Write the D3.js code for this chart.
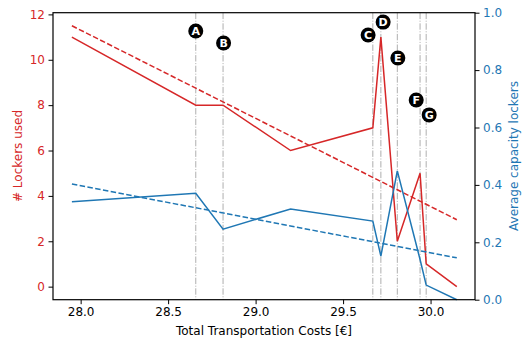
<!DOCTYPE html>
<html>
<head>
<meta charset="utf-8">
<script src="https://cdn.jsdelivr.net/npm/d3@7"></script>
<style>
  html, body { margin: 0; padding: 0; background: #fff; }
  svg { display: block; font-family: "DejaVu Sans", sans-serif; }
</style>
</head>
<body>
<svg id="chart" width="528" height="342"></svg>
<script>
// Pareto solutions: total cost vs. number of lockers and average locker capacity
const costs       = [27.95, 28.658, 28.814, 29.20, 29.67, 29.716, 29.81, 29.94, 29.975, 30.15];
const lockersUsed = [11, 8, 8, 6, 7, 11, 2, 5, 1, 0];
const avgCapacity = [0.341, 0.371, 0.246, 0.316, 0.274, 0.152, 0.449, 0.14, 0.051, 0.0];

// Linear trend lines (end points)
const trendX        = [27.95, 30.15];
const trendLockers  = [11.5, 2.95];
const trendCapacity = [0.403, 0.146];

// Marked solutions
const markLabels = ["A", "B", "C", "D", "E", "F", "G"];
const markCosts  = [28.658, 28.814, 29.67, 29.716, 29.81, 29.94, 29.975];
const markLabelX = [28.658, 28.817, 29.643, 29.729, 29.813, 29.918, 29.992];
const markLabelY = [11.27, 10.74, 11.09, 11.66, 10.08, 8.23, 7.57];

const xTicks = [28.0, 28.5, 29.0, 29.5, 30.0];
const yLeftTicks = [0, 2, 4, 6, 8, 10, 12];
const yRightTicks = [0.0, 0.2, 0.4, 0.6, 0.8, 1.0];

const red = "#d62728", blue = "#1f77b4";
const W = 528, H = 342;
const m = { left: 53, right: 53, top: 12.7, bottom: 42.3 };

const svg = d3.select("#chart");
const x = d3.scaleLinear().domain([27.842, 30.254]).range([m.left, W - m.right]);
const yL = d3.scaleLinear().domain([-0.575, 12.075]).range([H - m.bottom, m.top]);
const yR = d3.scaleLinear().domain([0, 1]).range([H - m.bottom, m.top]);

// vertical marker lines
svg.append("g").selectAll("line").data(markCosts).join("line")
  .attr("x1", d => x(d)).attr("x2", d => x(d))
  .attr("y1", m.top).attr("y2", H - m.bottom)
  .attr("stroke", "#9a9a9a").attr("stroke-width", 1).attr("stroke-opacity", 0.8)
  .attr("stroke-dasharray", "6.4,1.6,1,1.6");

const pts = (xs, ys) => xs.map((v, i) => [v, ys[i]]);

// lockers used (left axis)
svg.append("path").datum(pts(costs, lockersUsed))
  .attr("fill", "none").attr("stroke", red).attr("stroke-width", 1.5)
  .attr("d", d3.line().x(d => x(d[0])).y(d => yL(d[1])));
svg.append("path").datum(pts(trendX, trendLockers))
  .attr("fill", "none").attr("stroke", red).attr("stroke-width", 1.5)
  .attr("stroke-dasharray", "5.5,2.4")
  .attr("d", d3.line().x(d => x(d[0])).y(d => yL(d[1])));

// average capacity (right axis)
svg.append("path").datum(pts(costs, avgCapacity))
  .attr("fill", "none").attr("stroke", blue).attr("stroke-width", 1.5)
  .attr("d", d3.line().x(d => x(d[0])).y(d => yR(d[1])));
svg.append("path").datum(pts(trendX, trendCapacity))
  .attr("fill", "none").attr("stroke", blue).attr("stroke-width", 1.5)
  .attr("stroke-dasharray", "5.5,2.4")
  .attr("d", d3.line().x(d => x(d[0])).y(d => yR(d[1])));

// circled letters
const marks = svg.append("g").selectAll("g").data(markLabels).join("g")
  .attr("transform", (d, i) => `translate(${x(markLabelX[i])},${yL(markLabelY[i])})`);
marks.append("circle").attr("r", 7.5).attr("fill", "#000");
marks.append("text").text(d => d)
  .attr("text-anchor", "middle").attr("dy", "0.36em")
  .attr("fill", "#fff").attr("font-weight", "bold").attr("font-size", 11);

// axes
const fs = 12;
const gx = svg.append("g").attr("transform", `translate(0,${H - m.bottom})`)
  .call(d3.axisBottom(x).tickValues(xTicks).tickFormat(d3.format(".1f")).tickSizeOuter(0).tickSize(4.5).tickPadding(3.5));
const gl = svg.append("g").attr("transform", `translate(${m.left},0)`)
  .call(d3.axisLeft(yL).tickValues(yLeftTicks).tickFormat(d3.format("d")).tickSizeOuter(0).tickSize(4.5).tickPadding(3.5));
const gr = svg.append("g").attr("transform", `translate(${W - m.right},0)`)
  .call(d3.axisRight(yR).tickValues(yRightTicks).tickFormat(d3.format(".1f")).tickSizeOuter(0).tickSize(4.5).tickPadding(3.5));

[gx, gl, gr].forEach(g => {
  g.select(".domain").remove();
  g.selectAll("text").attr("font-size", fs).attr("font-family", "DejaVu Sans");
});
gx.selectAll("line").attr("stroke", "#000");
gx.selectAll("text").attr("fill", "#000");
gl.selectAll("line").attr("stroke", "#000");
gl.selectAll("text").attr("fill", red);
gr.selectAll("line").attr("stroke", "#000");
gr.selectAll("text").attr("fill", blue);

// frame
svg.append("rect").attr("x", m.left).attr("y", m.top)
  .attr("width", W - m.left - m.right).attr("height", H - m.top - m.bottom)
  .attr("fill", "none").attr("stroke", "#000").attr("stroke-width", 1.2);

// axis titles
svg.append("text").attr("x", (m.left + W - m.right) / 2).attr("y", 335)
  .attr("text-anchor", "middle").attr("font-size", fs).attr("fill", "#000")
  .text("Total Transportation Costs [€]");
svg.append("text").attr("transform", "translate(22,156) rotate(-90)")
  .attr("text-anchor", "middle").attr("font-size", fs).attr("fill", red)
  .text("# Lockers used");
svg.append("text").attr("transform", "translate(518,156) rotate(-90)")
  .attr("text-anchor", "middle").attr("font-size", fs).attr("fill", blue)
  .text("Average capacity lockers");
</script>
</body>
</html>
